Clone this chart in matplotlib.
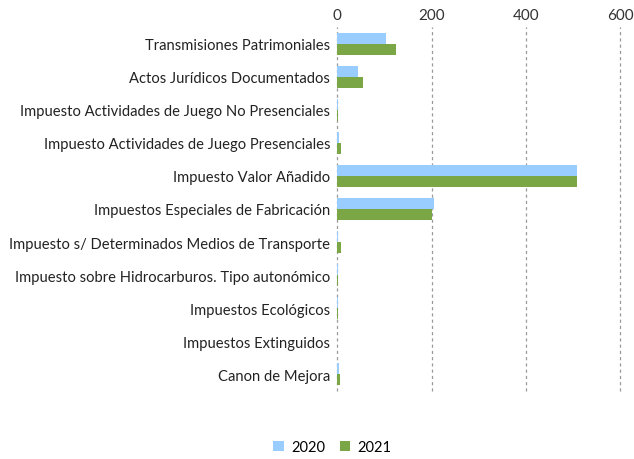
import matplotlib
matplotlib.use("Agg")
import matplotlib.pyplot as plt
import numpy as np

categories = [
    "Transmisiones Patrimoniales",
    "Actos Jurídicos Documentados",
    "Impuesto Actividades de Juego No Presenciales",
    "Impuesto Actividades de Juego Presenciales",
    "Impuesto Valor Añadido",
    "Impuestos Especiales de Fabricación",
    "Impuesto s/ Determinados Medios de Transporte",
    "Impuesto sobre Hidrocarburos. Tipo autonómico",
    "Impuestos Ecológicos",
    "Impuestos Extinguidos",
    "Canon de Mejora",
]
values_2020 = [103, 43, 1, 4, 508, 205, 0.5, 0.5, 2, 0, 4]
values_2021 = [124, 54, 1, 7, 508, 202, 7, 1, 2, 0, 5]
xticks = [0, 200, 400, 600]

plt.rcParams['font.family'] = ['Lato', 'DejaVu Sans']
fig = plt.figure(figsize=(6.34, 4.6), dpi=100)
ax = fig.add_axes([0.532, 0.148, 0.446, 0.791])

y = np.arange(len(categories))
h = 0.33
ax.barh(y - h/2, values_2020, height=h, color="#99CCFF", label="2020")
ax.barh(y + h/2, values_2021, height=h, color="#7BA646", label="2021")

ax.set_xlim(0, 600)
ax.set_ylim(len(categories) - 0.5, -0.5)
ax.set_xticks(xticks)
ax.xaxis.tick_top()
ax.tick_params(axis='x', length=0, labelsize=11, colors="#333333", pad=4)
ax.set_yticks(y)
ax.set_yticklabels(categories)
ax.tick_params(axis='y', length=0, labelsize=10.6, colors="#222222", pad=5)
for s in ax.spines.values():
    s.set_visible(False)
ax.grid(axis='x', color="#999999", linestyle=(0, (2.5, 2.5)), linewidth=0.9)
for gl in ax.get_xgridlines():
    gl.set_clip_on(False)
ax.set_axisbelow(True)

fig.legend(loc="center", bbox_to_anchor=(0.524, 0.026), ncol=2, frameon=False,
           fontsize=10.5, handlelength=0.7, handleheight=0.7, columnspacing=1.0, handletextpad=0.5)

fig.savefig("out.png", dpi=100)
